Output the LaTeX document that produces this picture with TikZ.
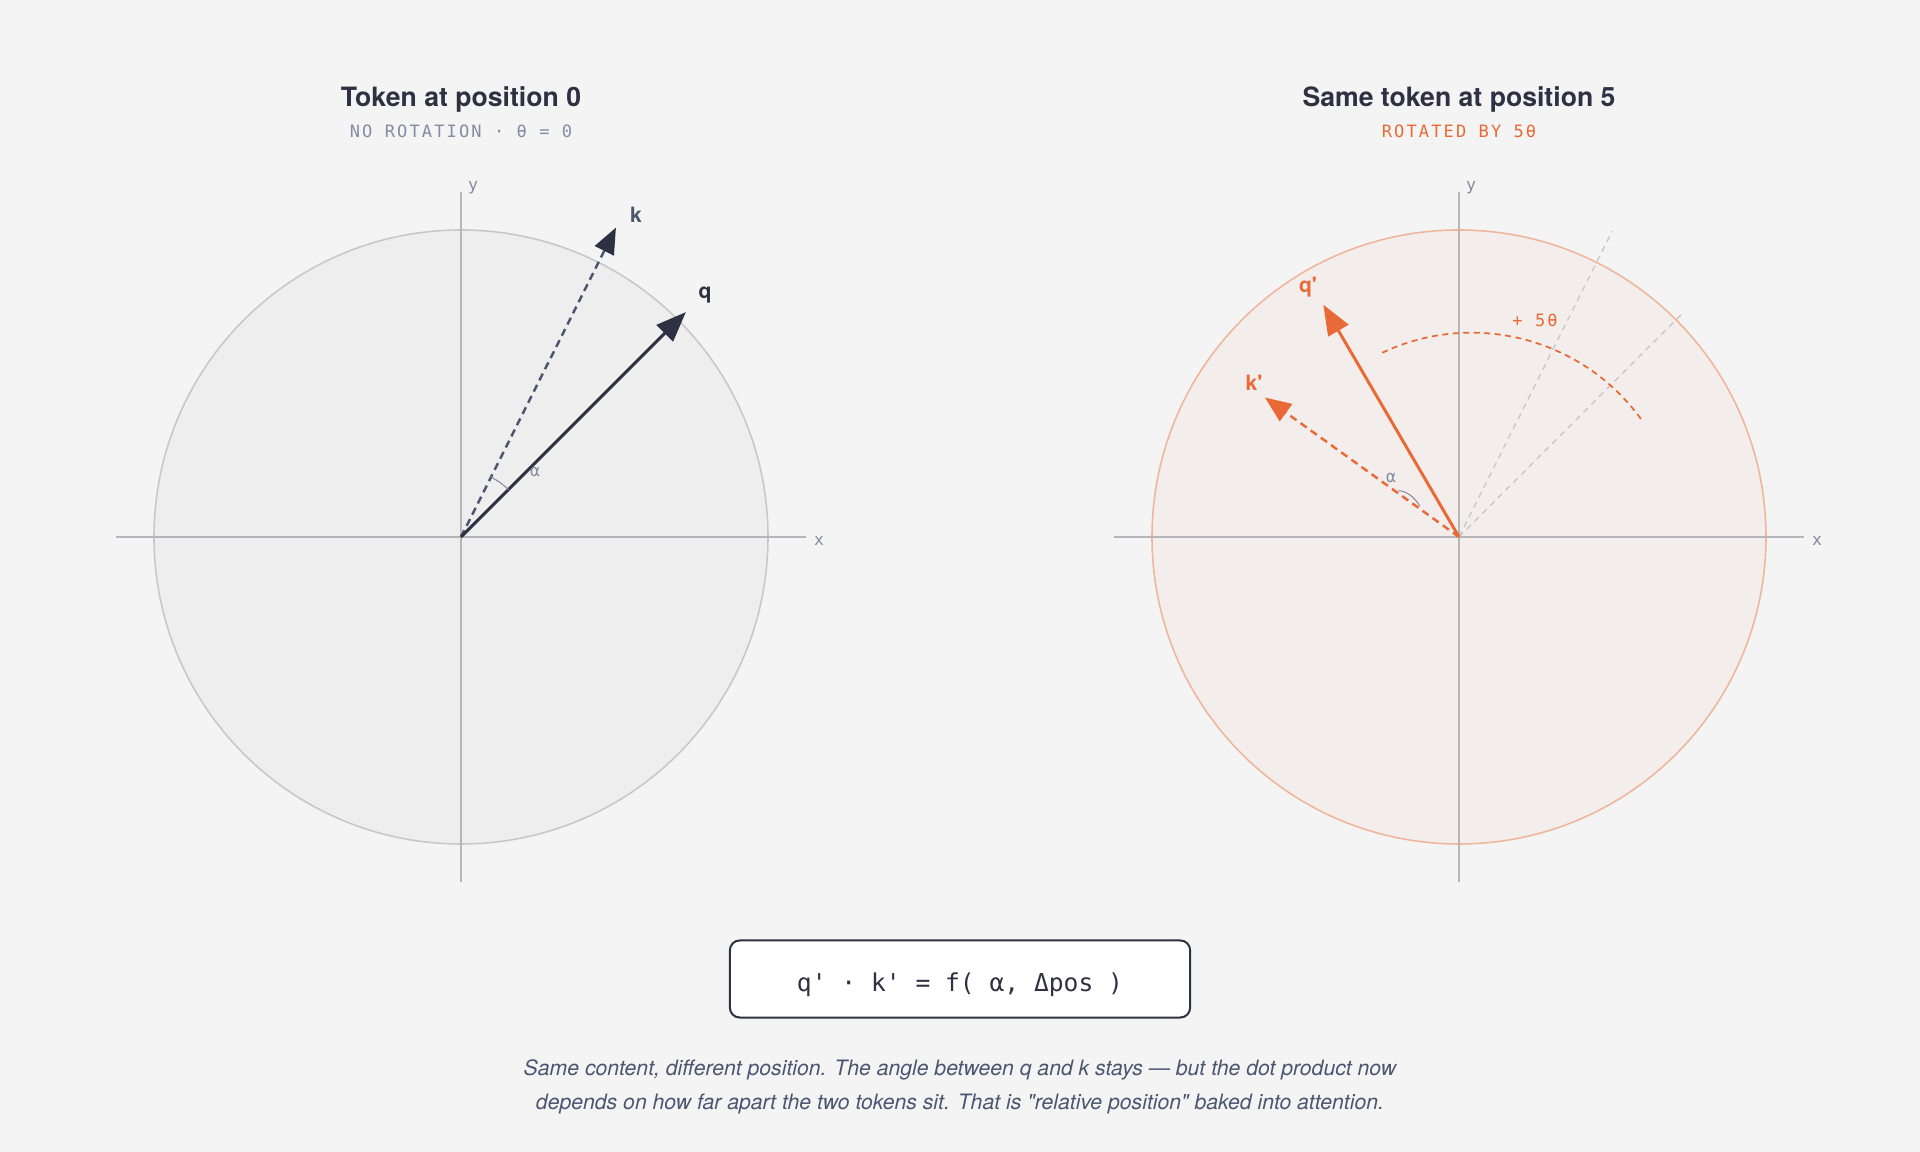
\documentclass[tikz,border=0pt]{standalone}
\usepackage{fontspec}
\setmainfont{TeX Gyre Heros}[Ligatures=TeXOff]
\setmonofont{DejaVu Sans Mono}
\newfontfamily\trackmono[LetterSpace=12.5]{DejaVu Sans Mono}
\usepackage{tikz}
\usetikzlibrary{arrows,positioning,calc,arrows.meta}
\tikzset{>=Latex}
\definecolor{bgcol}{RGB}{244,244,244}
\definecolor{ink}{RGB}{45,49,66}
\definecolor{slate}{RGB}{74,85,112}
\definecolor{muted}{RGB}{132,139,162}
\definecolor{orange}{RGB}{234,106,55}
\definecolor{axiscol}{RGB}{182,182,186}
\definecolor{ringcol}{RGB}{200,200,200}
\definecolor{discfill}{RGB}{238,238,238}
\definecolor{rotfill}{RGB}{243,238,235}
\definecolor{rotring}{RGB}{240,182,156}
\definecolor{ghost}{RGB}{200,200,204}
\colorlet{qcol}{ink}
\colorlet{kcol}{slate}
\colorlet{rotcol}{orange}
\tikzset{
  axisline/.style={line width=0.43pt,axiscol},
  axislbl/.style={inner sep=0pt,muted,font=\ttfamily\fontsize{4.7}{5}\selectfont},
  vec/.style={line width=0.85pt,-{Triangle[length=0.30cm,width=0.23cm]}},
  dvec/.style={line width=0.7pt,dash pattern=on 0.075cm off 0.05cm,-{Triangle[length=0.26cm,width=0.21cm]}},
  veclbl/.style={inner sep=0pt,font=\bfseries\fontsize{6}{7}\selectfont},
  title/.style={anchor=base,ink,font=\bfseries\fontsize{7.57}{9}\selectfont},
  subtitle/.style={anchor=base,font=\trackmono\fontsize{4.84}{6}\selectfont},
}
\begin{document}
\begin{tikzpicture}[x=0.01cm,y=0.01cm,>=Latex]
    \fill[bgcol] (0,0) rectangle (1920,1152);
    \useasboundingbox (0,0) rectangle (1920,1152);
    % left: position 0
    \node[title] (ttlL) at (461,1045) {Token at position 0};
    \node[subtitle,muted] (subL) at (461,1014) {NO ROTATION · θ = 0};
    \begin{scope}[shift={(461,615)}]
        \coordinate (oL) at (0,0);
        \draw[ringcol,fill=discfill,line width=0.45pt] (oL) circle (307);
        \coordinate (xLa) at (-345,0);
        \coordinate (xLb) at (345,0);
        \coordinate (yLa) at (0,-345);
        \coordinate (yLb) at (0,345);
        \draw[axisline] (xLa) -- (xLb);
        \draw[axisline] (yLa) -- (yLb);
        \node[axislbl] (xL) at (358,-4) {x};
        \node[axislbl] (yL) at (12,349) {y};
        \coordinate (kL) at (63.4:346);
        \coordinate (qL) at (45:318);
        \draw[dvec,kcol,-{Triangle[length=0.26cm,width=0.21cm,color=ink]}] (oL) -- (kL);
        \draw[vec,qcol] (oL) -- (qL);
        \draw[muted,line width=0.3pt] (45:67) arc[start angle=45,end angle=63.4,radius=67];
        \node[axislbl] (aL) at (74,65) {α};
        \node[veclbl,kcol] (kLlbl) at (175,322) {k};
        \node[veclbl,qcol] (qLlbl) at (244,242) {q};
    \end{scope}
    % right: position 5
    \node[title] (ttlR) at (1459,1045) {Same token at position 5};
    \node[subtitle,rotcol] (subR) at (1459,1014) {ROTATED BY 5θ};
    \begin{scope}[shift={(1459,615)}]
        \coordinate (oR) at (0,0);
        \draw[rotring,fill=rotfill,line width=0.45pt] (oR) circle (307);
        \coordinate (xRa) at (-345,0);
        \coordinate (xRb) at (345,0);
        \coordinate (yRa) at (0,-345);
        \coordinate (yRb) at (0,345);
        \draw[axisline] (xRa) -- (xRb);
        \draw[axisline] (yRa) -- (yRb);
        \node[axislbl] (xR) at (358,-4) {x};
        \node[axislbl] (yR) at (12,349) {y};
        \coordinate (gk) at (63.4:342);
        \coordinate (gq) at (45:315);
        \draw[ghost,line width=0.4pt,dash pattern=on 0.06cm off 0.05cm] (oR) -- (gk);
        \draw[ghost,line width=0.4pt,dash pattern=on 0.06cm off 0.05cm] (oR) -- (gq);
        \draw[rotcol,line width=0.5pt,dash pattern=on 0.06cm off 0.045cm] (12.6,-5) ++(115.3:209.3) arc[start angle=115.3,end angle=34.9,radius=209.3];
        \node[subtitle,rotcol,anchor=center] (rotlbl) at (76,217) {+ 5θ};
        \coordinate (kR) at (144.3:239);
        \coordinate (qR) at (120.3:269);
        \draw[dvec,rotcol] (oR) -- (kR);
        \draw[vec,rotcol] (oR) -- (qR);
        \draw[muted,line width=0.3pt] (-60.7,46.3) .. controls (-52.4,45.8) and (-45.1,40.6) .. (-39,30.6);
        \node[axislbl] (aR) at (-68,59) {α};
        \node[veclbl,rotcol] (kRlbl) at (-205,154) {k'};
        \node[veclbl,rotcol] (qRlbl) at (-151,250) {q'};
    \end{scope}
    % relation and caption
    \node[draw=ink,fill=white,text=ink,line width=0.57pt,rounded corners=2.8pt,minimum width=4.6cm,minimum height=0.77cm,
          text height=0.31cm,text depth=0.05cm,
          font=\ttfamily\fontsize{7}{8}\selectfont] (eq) at (960,173) {q' · k' = f( α, Δpos )};
    \node[text=slate,align=center,font=\itshape\fontsize{6.03}{9.67}\selectfont] (cap) at (960,65)
        {Same content, different position. The angle between q and k stays — but the dot product now\\
         depends on how far apart the two tokens sit. That is "relative position" baked into attention.};
\end{tikzpicture}
\end{document}
